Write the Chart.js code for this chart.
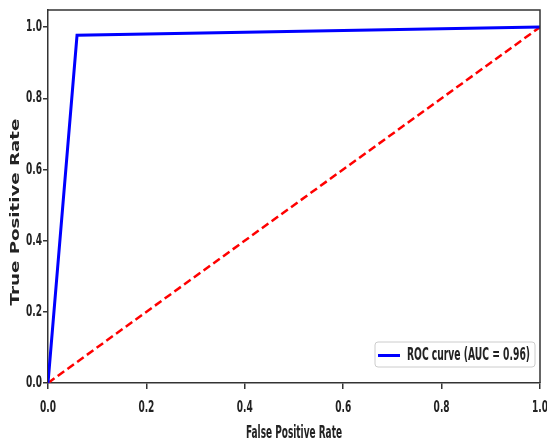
<!DOCTYPE html>
<html lang="en">
<head>
    <meta charset="UTF-8">
    <title>ROC curve</title>
    <script src="https://cdn.jsdelivr.net/npm/chart.js"></script>
    <style>
        body { margin: 0; background: #fff; }
        #wrap { width: 547px; height: 444px; }
    </style>
</head>
<body>
    <div id="wrap"><canvas id="roc-chart"></canvas></div>

    <script>
        // ROC curve points (false positive rate, true positive rate)
        var fpr = [0.0, 0.059, 1.0];
        var tpr = [0.0, 0.977, 1.0];
        // chance line
        var chanceX = [0.0, 1.0];
        var chanceY = [0.0, 1.0];
        var rocLabel = 'ROC curve (AUC = 0.96)';
        var xTitle = 'False Positive Rate';
        var yTitle = 'True Positive Rate';
        var xTicks = [0.0, 0.2, 0.4, 0.6, 0.8, 1.0];
        var yTicks = [0.0, 0.2, 0.4, 0.6, 0.8, 1.0];

        function toPoints(xs, ys) {
            return xs.map(function (x, i) { return { x: x, y: ys[i] }; });
        }

        var cond = '"DejaVu Sans Condensed", "DejaVu Sans", sans-serif';

        // text squeezed horizontally to a given width (the source font is a narrow one)
        function squeezed(ctx, text, x, y, font, width, align) {
            ctx.save();
            ctx.font = font;
            var k = width / ctx.measureText(text).width;
            ctx.textAlign = align;
            ctx.textBaseline = 'middle';
            ctx.translate(x, y);
            ctx.scale(k, 1);
            ctx.fillText(text, 0, 0);
            ctx.restore();
        }

        var labelsPlugin = {
            id: 'labels',
            afterDraw: function (chart) {
                var ctx = chart.ctx, a = chart.chartArea;
                var sx = chart.scales.x, sy = chart.scales.y;
                ctx.save();
                // top and right frame
                ctx.strokeStyle = '#333';
                ctx.lineWidth = 1.5;
                ctx.beginPath();
                ctx.moveTo(a.left, a.top);
                ctx.lineTo(a.right, a.top);
                ctx.lineTo(a.right, a.bottom);
                ctx.stroke();

                ctx.fillStyle = '#222';
                var tf = 'bold 16px ' + cond;
                ctx.font = tf;
                var tk = 16 / ctx.measureText('0.0').width;
                xTicks.forEach(function (v) {
                    var t = v.toFixed(1);
                    ctx.font = tf;
                    squeezed(ctx, t, sx.getPixelForValue(v), 408, tf, ctx.measureText(t).width * tk, 'center');
                });
                yTicks.forEach(function (v) {
                    var t = v.toFixed(1);
                    ctx.font = tf;
                    squeezed(ctx, t, 42, sy.getPixelForValue(v), tf, ctx.measureText(t).width * tk, 'right');
                });

                // x title
                squeezed(ctx, xTitle, (a.left + a.right) / 2, 434, 'bold 17px ' + cond, 96, 'center');

                // y title, stretched along its length
                ctx.save();
                ctx.translate(16, 212);
                ctx.rotate(-Math.PI / 2);
                ctx.scale(1.4, 1);
                ctx.font = 'bold 13px "DejaVu Sans", sans-serif';
                ctx.textAlign = 'center';
                ctx.textBaseline = 'middle';
                ctx.fillText(yTitle, 0, 0);
                ctx.restore();

                // legend box
                var w = 160, h = 25;
                var x = a.right - w - 5, y = a.bottom - h - 16;
                ctx.fillStyle = 'rgba(255,255,255,0.8)';
                ctx.strokeStyle = '#ccc';
                ctx.lineWidth = 1;
                ctx.beginPath();
                ctx.roundRect(x, y, w, h, 3);
                ctx.fill();
                ctx.stroke();
                ctx.strokeStyle = '#0000ff';
                ctx.lineWidth = 3;
                ctx.beginPath();
                ctx.moveTo(x + 3, y + h / 2 + 1);
                ctx.lineTo(x + 25, y + h / 2 + 1);
                ctx.stroke();
                ctx.fillStyle = '#222';
                squeezed(ctx, rocLabel, x + 32, y + h / 2 + 1, 'bold 17px ' + cond, 123, 'left');
                ctx.restore();
            }
        };

        new Chart(document.getElementById('roc-chart').getContext('2d'), {
            type: 'scatter',
            data: {
                datasets: [{
                    label: rocLabel,
                    data: toPoints(fpr, tpr),
                    showLine: true,
                    borderColor: '#0000ff',
                    borderWidth: 3,
                    pointRadius: 0,
                    tension: 0
                }, {
                    label: 'chance',
                    data: toPoints(chanceX, chanceY),
                    showLine: true,
                    borderColor: '#ff0000',
                    borderWidth: 2.5,
                    borderDash: [8, 4],
                    pointRadius: 0
                }]
            },
            options: {
                responsive: true,
                maintainAspectRatio: false,
                animation: false,
                layout: { padding: { top: 10, right: 7, left: 0, bottom: 0 } },
                plugins: {
                    legend: { display: false },
                    tooltip: { enabled: false }
                },
                scales: {
                    x: {
                        type: 'linear',
                        min: 0, max: 1,
                        afterBuildTicks: function (s) { s.ticks = xTicks.map(function (v) { return { value: v }; }); },
                        afterFit: function (s) { s.height = 61; s.paddingRight = 0; s.paddingLeft = 0; },
                        ticks: { display: false },
                        grid: { display: true, drawOnChartArea: false, drawTicks: true, tickLength: 6, color: '#333', lineWidth: 1.5 },
                        border: { display: true, color: '#333', width: 1.5 }
                    },
                    y: {
                        type: 'linear',
                        min: 0, max: 1.048,
                        afterBuildTicks: function (s) { s.ticks = yTicks.map(function (v) { return { value: v }; }); },
                        afterFit: function (s) { s.width = 48; s.paddingTop = 0; s.paddingBottom = 0; },
                        ticks: { display: false },
                        grid: { display: true, drawOnChartArea: false, drawTicks: true, tickLength: 5, color: '#333', lineWidth: 1.5 },
                        border: { display: true, color: '#333', width: 1.5 }
                    }
                }
            },
            plugins: [labelsPlugin]
        });
    </script>
</body>
</html>
